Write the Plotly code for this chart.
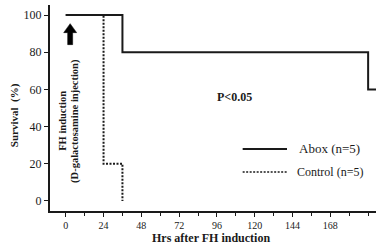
import plotly.graph_objects as go

# Kaplan-Meier step data (hours, survival %)
abox_hours = [0, 36, 36, 192, 192, 200]
abox_surv = [100, 100, 80, 80, 60, 60]
ctrl_hours = [0, 24, 24, 36, 36]
ctrl_surv = [100, 100, 20, 20, 0]
x_ticks = [0, 24, 48, 72, 96, 120, 144, 168]
y_ticks = [0, 20, 40, 60, 80, 100]

FONT = "Liberation Serif"
INK = "#1a1a1a"
DOT = "2px,1.5px"

fig = go.Figure()
fig.add_trace(go.Scatter(x=ctrl_hours, y=ctrl_surv, mode="lines",
                         line=dict(color=INK, width=2, dash=DOT),
                         name="Control (n=5)", showlegend=False))
fig.add_trace(go.Scatter(x=abox_hours, y=abox_surv, mode="lines",
                         line=dict(color=INK, width=2),
                         name="Abox (n=5)", showlegend=False))

# Legend drawn manually
fig.add_shape(type="line", xref="paper", yref="paper", x0=0.591, x1=0.727, y0=0.301, y1=0.301,
              line=dict(color=INK, width=2))
fig.add_shape(type="line", xref="paper", yref="paper", x0=0.591, x1=0.727, y0=0.189, y1=0.189,
              line=dict(color=INK, width=1.5, dash=DOT))
fig.add_annotation(xref="paper", yref="paper", x=0.757, y=0.301, xanchor="left", yanchor="middle",
                   text="Abox (n=5)", showarrow=False, font=dict(family=FONT, size=13, color=INK))
fig.add_annotation(xref="paper", yref="paper", x=0.751, y=0.189, xanchor="left", yanchor="middle",
                   text="Control (n=5)", showarrow=False, font=dict(family=FONT, size=12, color=INK))

fig.add_annotation(x=107, y=56, text="<b>P<0.05</b>", showarrow=False,
                   font=dict(family=FONT, size=12, color=INK))

# Arrow (pixel-sized shape anchored at hour ~2.8)
fig.add_shape(type="path", xref="x", yref="y", xsizemode="pixel", ysizemode="pixel",
              xanchor=2.8, yanchor=90,
              path="M -2.5 -11 L 2.5 -11 L 2.5 1 L 6.5 1 L 0 10 L -6.5 1 L -2.5 1 Z",
              fillcolor="black", line=dict(color="black", width=0.5))
fig.add_annotation(x=-2.5, y=43, text="<b>FH induction</b>", textangle=-90, showarrow=False,
                   font=dict(family=FONT, size=10.5, color=INK))
fig.add_annotation(x=5.8, y=43, text="<b>(D-galactosamine injection)</b>", textangle=-90, showarrow=False,
                   font=dict(family=FONT, size=10.5, color=INK))

# Axis titles
fig.add_annotation(xref="paper", yref="paper", x=0.494, y=-0.131, text="<b>Hrs after FH induction</b>",
                   showarrow=False, xanchor="center", yanchor="middle",
                   font=dict(family=FONT, size=12, color=INK))
fig.add_annotation(xref="paper", yref="paper", x=-0.110, y=0.466, text="<b>Survival  (%)</b>",
                   showarrow=False, textangle=-90, xanchor="center", yanchor="middle",
                   font=dict(family=FONT, size=11, color=INK))

fig.update_layout(
    width=376, height=245,
    margin=dict(l=50, r=0, t=5, b=34),
    paper_bgcolor="white", plot_bgcolor="white",
    font=dict(family=FONT, color=INK),
    xaxis=dict(range=[-10, 197], tickvals=x_ticks, ticks="outside", ticklen=4, tickwidth=1,
               tickcolor=INK, showline=True, linecolor=INK, linewidth=2, showgrid=False,
               zeroline=False, automargin=False, tickfont=dict(family=FONT, size=10, color=INK),
               minor=dict(dtick=12, tick0=0, ticks="outside", ticklen=3, tickcolor=INK)),
    yaxis=dict(range=[-5.4, 105.4], tickvals=y_ticks, ticks="outside", ticklen=4, tickwidth=1,
               tickcolor=INK, showline=True, linecolor=INK, linewidth=2, showgrid=False,
               zeroline=False, automargin=False, tickfont=dict(family=FONT, size=12, color=INK)),
)

fig.write_html("out.html", config={"displayModeBar": False},
               post_script="document.body.style.margin='0';document.body.style.overflow='hidden';")
